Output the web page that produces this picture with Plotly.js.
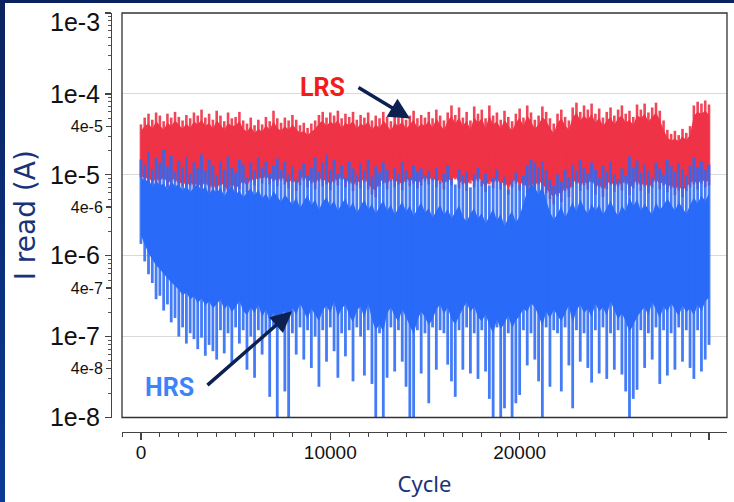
<!DOCTYPE html>
<html>
<head>
<meta charset="utf-8">
<script src="https://cdn.plot.ly/plotly-3.0.1.min.js"></script>
<style>
  html, body { margin:0; padding:0; }
  body { width:734px; height:502px; overflow:hidden; background:linear-gradient(180deg,#0a2260,#0b3a96); position:relative; }
  #chart { position:absolute; left:5px; top:3px; width:729px; height:499px; background:#fff; }
</style>
</head>
<body>
<div id="chart"></div>
<script>
// ---- data: readings per 200-cycle bin, in A ----
const binCycles = [0,200,400,600,800,1000,1200,1400,1600,1800,2000,2200,2400,2600,2800,3000,3200,3400,3600,3800,
4000,4200,4400,4600,4800,5000,5200,5400,5600,5800,6000,6200,6400,6600,6800,7000,7200,7400,7600,7800,
8000,8200,8400,8600,8800,9000,9200,9400,9600,9800,10000,10200,10400,10600,10800,11000,11200,11400,11600,11800,
12000,12200,12400,12600,12800,13000,13200,13400,13600,13800,14000,14200,14400,14600,14800,15000,15200,15400,15600,15800,
16000,16200,16400,16600,16800,17000,17200,17400,17600,17800,18000,18200,18400,18600,18800,19000,19200,19400,19600,19800,
20000,20200,20400,20600,20800,21000,21200,21400,21600,21800,22000,22200,22400,22600,22800,23000,23200,23400,23600,23800,
24000,24200,24400,24600,24800,25000,25200,25400,25600,25800,26000,26200,26400,26600,26800,27000,27200,27400,27600,27800,
28000,28200,28400,28600,28800,29000,29200,29400,29600,29800,30000];

// LRS: extreme spike high / low in each bin
const lrsHigh = [4.2e-5,5.1e-5,5.7e-5,4.8e-5,5.9e-5,5.4e-5,4.6e-5,5.7e-5,5.1e-5,6.0e-5,
5.2e-5,4.7e-5,5.5e-5,5.0e-5,5.9e-5,5.4e-5,6.4e-5,5.1e-5,5.7e-5,4.8e-5,
6.2e-5,5.4e-5,4.6e-5,5.9e-5,5.0e-5,5.2e-5,6.0e-5,4.7e-5,4.3e-5,5.1e-5,
4.1e-5,4.8e-5,4.2e-5,5.2e-5,4.6e-5,6.2e-5,5.0e-5,4.4e-5,5.1e-5,4.7e-5,
5.5e-5,4.8e-5,4.1e-5,4.4e-5,3.8e-5,4.3e-5,4.7e-5,5.5e-5,6.0e-5,5.1e-5,
5.9e-5,5.4e-5,6.2e-5,5.0e-5,5.7e-5,5.2e-5,6.0e-5,4.8e-5,5.5e-5,5.1e-5,
5.9e-5,4.7e-5,5.4e-5,5.0e-5,6.0e-5,5.2e-5,4.6e-5,5.7e-5,5.1e-5,5.9e-5,
4.8e-5,5.4e-5,6.2e-5,5.0e-5,5.5e-5,5.1e-5,6.0e-5,5.0e-5,6.4e-5,5.4e-5,
4.7e-5,5.9e-5,7.2e-5,5.5e-5,6.8e-5,5.1e-5,6.0e-5,4.7e-5,7.0e-5,5.7e-5,
6.4e-5,5.0e-5,7.2e-5,5.4e-5,5.9e-5,4.8e-5,6.2e-5,5.2e-5,4.6e-5,5.7e-5,
6.6e-5,5.1e-5,7.2e-5,5.9e-5,4.8e-5,5.4e-5,7.0e-5,6.0e-5,5.0e-5,4.3e-5,
5.7e-5,6.4e-5,5.2e-5,4.7e-5,6.8e-5,7.8e-5,6.0e-5,7.2e-5,6.4e-5,7.6e-5,
5.7e-5,6.6e-5,5.1e-5,6.0e-5,6.8e-5,5.4e-5,6.4e-5,7.2e-5,5.7e-5,6.2e-5,
5.2e-5,7.4e-5,6.4e-5,7.6e-5,5.9e-5,6.8e-5,7.8e-5,6.2e-5,4.7e-5,3.6e-5,
3.2e-5,3.5e-5,3.1e-5,3.7e-5,3.3e-5,4.0e-5,7.2e-5,8.0e-5,7.6e-5,8.3e-5,
7.4e-5];
const lrsLow = [9.3e-6,7.8e-6,8.5e-6,7.2e-6,8.1e-6,7.4e-6,8.8e-6,7.0e-6,7.6e-6,8.3e-6,
6.6e-6,7.2e-6,6.3e-6,7.4e-6,6.4e-6,7.0e-6,6.1e-6,7.6e-6,5.9e-6,6.8e-6,
5.4e-6,7.4e-6,6.3e-6,5.3e-6,7.0e-6,5.7e-6,6.6e-6,7.8e-6,6.1e-6,8.3e-6,
7.4e-6,8.8e-6,7.8e-6,9.0e-6,7.6e-6,8.3e-6,7.2e-6,8.5e-6,7.6e-6,6.8e-6,
8.1e-6,6.3e-6,7.4e-6,8.5e-6,7.0e-6,7.8e-6,6.6e-6,8.3e-6,7.2e-6,7.6e-6,
6.4e-6,8.1e-6,7.4e-6,8.8e-6,7.0e-6,7.8e-6,6.3e-6,7.4e-6,6.8e-6,8.1e-6,
6.6e-6,5.7e-6,5.3e-6,7.2e-6,7.8e-6,6.6e-6,8.3e-6,7.0e-6,7.6e-6,6.4e-6,
8.1e-6,7.2e-6,7.8e-6,6.8e-6,7.4e-6,8.3e-6,7.6e-6,8.5e-6,7.0e-6,7.8e-6,
6.6e-6,8.1e-6,7.4e-6,8.8e-6,6.8e-6,7.6e-6,6.3e-6,7.8e-6,7.0e-6,8.3e-6,
7.2e-6,6.1e-6,7.6e-6,6.8e-6,8.1e-6,6.6e-6,7.4e-6,5.7e-6,7.0e-6,7.8e-6,
6.4e-6,7.4e-6,5.6e-6,7.0e-6,6.3e-6,7.6e-6,6.6e-6,5.9e-6,5.0e-6,4.3e-6,
5.4e-6,4.6e-6,6.3e-6,5.3e-6,7.0e-6,7.8e-6,6.3e-6,7.4e-6,6.6e-6,8.1e-6,
5.7e-6,7.0e-6,5.3e-6,6.6e-6,7.6e-6,6.1e-6,7.2e-6,6.4e-6,7.8e-6,5.6e-6,
6.8e-6,7.6e-6,6.3e-6,7.2e-6,5.9e-6,7.0e-6,8.1e-6,6.6e-6,7.4e-6,6.1e-6,
6.8e-6,5.6e-6,6.4e-6,5.3e-6,6.3e-6,7.0e-6,7.6e-6,6.6e-6,7.8e-6,7.0e-6,
7.4e-6];
// LRS: edges of the dense band in each bin
const lrsBandHigh = [3.5e-5,4.0e-5,4.3e-5,3.7e-5,4.6e-5,4.1e-5,3.6e-5,4.4e-5,4.0e-5,4.7e-5,
4.1e-5,3.7e-5,4.3e-5,3.8e-5,4.6e-5,4.2e-5,4.8e-5,4.0e-5,4.4e-5,3.7e-5,
4.7e-5,4.2e-5,3.6e-5,4.4e-5,4.0e-5,4.1e-5,4.6e-5,3.7e-5,3.4e-5,4.0e-5,
3.3e-5,3.7e-5,3.4e-5,4.1e-5,3.6e-5,4.6e-5,3.8e-5,3.5e-5,4.0e-5,3.6e-5,
4.2e-5,3.7e-5,3.3e-5,3.5e-5,3.1e-5,3.4e-5,3.7e-5,4.3e-5,4.7e-5,4.0e-5,
4.6e-5,4.2e-5,4.8e-5,3.8e-5,4.4e-5,4.1e-5,4.7e-5,3.7e-5,4.3e-5,4.0e-5,
4.6e-5,3.6e-5,4.2e-5,3.8e-5,4.7e-5,4.1e-5,3.5e-5,4.4e-5,4.0e-5,4.6e-5,
3.7e-5,4.2e-5,4.8e-5,3.8e-5,4.3e-5,4.0e-5,4.7e-5,3.8e-5,5.0e-5,4.2e-5,
3.6e-5,4.6e-5,5.4e-5,4.3e-5,5.1e-5,4.0e-5,4.7e-5,3.6e-5,5.2e-5,4.4e-5,
5.0e-5,3.8e-5,5.4e-5,4.2e-5,4.6e-5,3.7e-5,4.8e-5,4.1e-5,3.5e-5,4.4e-5,
5.1e-5,4.0e-5,5.4e-5,4.6e-5,3.7e-5,4.2e-5,5.2e-5,4.7e-5,3.8e-5,3.3e-5,
4.4e-5,5.0e-5,4.1e-5,3.6e-5,5.1e-5,5.9e-5,4.7e-5,5.4e-5,4.8e-5,5.7e-5,
4.4e-5,5.1e-5,4.0e-5,4.7e-5,5.2e-5,4.2e-5,5.0e-5,5.4e-5,4.4e-5,4.8e-5,
4.1e-5,5.5e-5,5.0e-5,5.7e-5,4.6e-5,5.2e-5,5.9e-5,4.8e-5,3.6e-5,2.9e-5,
2.65e-5,2.8e-5,2.6e-5,3.0e-5,2.7e-5,3.1e-5,5.4e-5,6.0e-5,5.7e-5,6.2e-5,
5.5e-5];
const lrsBandLow = [9.8e-6,8.8e-6,9.3e-6,8.1e-6,9.0e-6,8.3e-6,9.5e-6,7.8e-6,8.5e-6,9.0e-6,
7.6e-6,8.3e-6,7.2e-6,8.1e-6,7.4e-6,7.8e-6,7.0e-6,8.3e-6,6.8e-6,7.6e-6,
6.6e-6,8.1e-6,7.2e-6,6.4e-6,7.8e-6,6.8e-6,7.4e-6,8.5e-6,7.2e-6,9.0e-6,
8.3e-6,9.5e-6,8.8e-6,9.8e-6,8.5e-6,9.3e-6,8.1e-6,9.5e-6,8.5e-6,7.8e-6,
9.0e-6,7.6e-6,8.5e-6,9.8e-6,8.1e-6,8.8e-6,7.6e-6,9.3e-6,8.3e-6,8.8e-6,
7.4e-6,9.0e-6,8.3e-6,9.8e-6,7.8e-6,8.8e-6,7.2e-6,8.5e-6,7.8e-6,9.3e-6,
7.6e-6,6.8e-6,6.3e-6,8.1e-6,8.8e-6,7.4e-6,9.3e-6,8.1e-6,8.5e-6,7.4e-6,
9.0e-6,8.3e-6,8.8e-6,7.8e-6,8.5e-6,9.3e-6,8.5e-6,9.5e-6,8.1e-6,8.8e-6,
7.6e-6,9.0e-6,8.3e-6,9.8e-6,7.8e-6,8.5e-6,7.2e-6,8.8e-6,8.1e-6,9.3e-6,
8.3e-6,7.0e-6,8.5e-6,7.8e-6,9.0e-6,7.6e-6,8.3e-6,6.8e-6,8.1e-6,8.8e-6,
7.4e-6,8.3e-6,6.6e-6,7.8e-6,7.2e-6,8.5e-6,7.6e-6,6.8e-6,5.9e-6,5.3e-6,
6.3e-6,5.6e-6,7.2e-6,6.3e-6,7.8e-6,8.8e-6,7.2e-6,8.3e-6,7.6e-6,9.0e-6,
6.8e-6,7.8e-6,6.3e-6,7.6e-6,8.5e-6,7.0e-6,8.1e-6,7.4e-6,8.8e-6,6.6e-6,
7.8e-6,8.5e-6,7.2e-6,8.1e-6,6.8e-6,7.8e-6,9.0e-6,7.6e-6,8.3e-6,7.0e-6,
7.6e-6,6.6e-6,7.4e-6,6.3e-6,7.2e-6,7.8e-6,8.5e-6,7.6e-6,8.8e-6,8.1e-6,
8.5e-6];

// HRS: extreme spike high / low in each bin
const hrsHigh = [1.55e-5,1.34e-5,1.94e-5,1.16e-5,1.64e-5,1.42e-5,2.05e-5,1.27e-5,1.73e-5,1.10e-5,
1.50e-5,1.23e-5,1.64e-5,1.04e-5,1.42e-5,1.20e-5,1.78e-5,1.13e-5,1.55e-5,1.30e-5,
9.8e-6,1.46e-5,1.16e-5,1.68e-5,1.23e-5,1.07e-5,1.55e-5,1.34e-5,9.3e-6,1.42e-5,
1.13e-5,1.64e-5,1.23e-5,1.46e-5,1.04e-5,1.30e-5,1.59e-5,1.16e-5,1.46e-5,1.01e-5,
1.27e-5,8.8e-6,1.16e-5,1.38e-5,9.8e-6,1.23e-5,1.64e-5,1.10e-5,1.42e-5,1.78e-5,
1.16e-5,1.55e-5,1.04e-5,1.30e-5,9.3e-6,1.46e-5,1.20e-5,1.01e-5,1.38e-5,1.13e-5,
1.55e-5,9.5e-6,1.27e-5,1.07e-5,1.42e-5,1.16e-5,8.8e-6,1.23e-5,1.04e-5,1.46e-5,
1.13e-5,9.3e-6,1.30e-5,1.10e-5,1.20e-5,9.8e-6,1.13e-5,9.3e-6,1.23e-5,8.3e-6,
1.04e-5,1.30e-5,9.0e-6,7.6e-6,1.16e-5,9.8e-6,1.10e-5,7.0e-6,1.01e-5,1.23e-5,
8.5e-6,1.04e-5,7.4e-6,9.3e-6,1.16e-5,8.1e-6,9.5e-6,6.6e-6,8.5e-6,1.07e-5,
7.6e-6,9.8e-6,1.30e-5,1.55e-5,1.42e-5,1.23e-5,1.46e-5,1.13e-5,8.8e-6,7.4e-6,
1.01e-5,8.3e-6,1.16e-5,9.3e-6,1.34e-5,1.13e-5,1.55e-5,1.23e-5,1.04e-5,1.42e-5,
1.16e-5,9.3e-6,1.30e-5,1.10e-5,1.46e-5,1.01e-5,8.8e-6,1.20e-5,9.8e-6,1.68e-5,
1.23e-5,1.50e-5,1.07e-5,1.34e-5,1.13e-5,9.3e-6,1.42e-5,1.20e-5,1.01e-5,1.55e-5,
1.27e-5,1.10e-5,1.38e-5,1.16e-5,9.8e-6,1.30e-5,1.64e-5,1.23e-5,1.46e-5,1.16e-5,
1.34e-5];
const hrsLow = [1.4e-6,8.5e-7,5.9e-7,4.6e-7,2.9e-7,3.2e-7,2.1e-7,2.5e-7,1.5e-7,1.7e-7,
1.0e-7,1.3e-7,8.2e-8,1.1e-7,9.3e-8,7.0e-8,9.7e-8,5.8e-8,7.9e-8,6.6e-8,
5.2e-8,1.2e-7,6.2e-8,1.1e-7,4.5e-8,1.3e-7,8.2e-8,1.2e-7,3.9e-8,1.0e-7,
3.1e-8,1.2e-7,6.0e-8,1.1e-7,1.8e-8,1.3e-7,1.0e-8,1.2e-7,2.1e-8,1.0e-8,
1.1e-7,6.0e-8,1.3e-7,5.2e-8,1.2e-7,4.1e-8,1.0e-7,2.4e-8,1.2e-7,4.9e-8,
1.3e-7,6.6e-8,3.1e-8,1.1e-7,5.7e-8,1.2e-7,2.8e-8,1.3e-7,1.0e-7,3.3e-8,
1.2e-7,2.6e-8,1.0e-8,1.1e-7,1.0e-8,3.1e-8,1.3e-7,3.7e-8,1.2e-7,4.9e-8,
2.4e-8,1.0e-8,1.0e-8,1.2e-7,3.5e-8,1.1e-7,1.5e-8,1.3e-7,3.9e-8,1.2e-7,
1.1e-7,4.5e-8,2.8e-8,1.8e-8,1.2e-7,3.9e-8,1.3e-7,3.5e-8,1.1e-7,3.0e-8,
1.2e-7,3.7e-8,1.7e-8,1.0e-8,1.3e-7,1.0e-8,1.3e-8,1.1e-7,1.0e-8,1.5e-8,
1.9e-8,1.2e-7,4.4e-8,1.1e-7,5.2e-8,2.8e-8,1.0e-8,1.3e-7,2.4e-8,1.2e-7,
1.1e-7,2.1e-8,1.3e-7,4.4e-8,1.3e-8,1.2e-7,4.9e-8,1.1e-7,4.1e-8,2.7e-8,
1.2e-7,3.5e-8,1.3e-7,3.0e-8,1.1e-7,3.9e-8,1.2e-7,3.4e-8,2.1e-8,1.0e-8,
1.7e-8,2.2e-8,1.2e-7,4.1e-8,1.1e-7,5.2e-8,1.3e-7,2.6e-8,1.2e-7,3.3e-8,
1.1e-7,3.9e-8,1.3e-7,4.9e-8,1.2e-7,4.1e-8,3.0e-8,1.2e-7,3.7e-8,5.2e-8,
7.9e-8];
// HRS: edges of the dense band in each bin
const hrsBandHigh = [9.8e-6,8.1e-6,9.0e-6,7.0e-6,8.5e-6,7.4e-6,7.8e-6,6.6e-6,8.3e-6,7.2e-6,
7.6e-6,6.4e-6,7.4e-6,6.1e-6,7.0e-6,7.8e-6,6.3e-6,7.2e-6,5.7e-6,6.8e-6,
5.9e-6,7.0e-6,5.4e-6,6.6e-6,7.4e-6,5.7e-6,6.4e-6,5.3e-6,6.1e-6,6.8e-6,
5.6e-6,6.6e-6,5.1e-6,5.9e-6,4.8e-6,6.3e-6,5.4e-6,4.6e-6,5.7e-6,5.0e-6,
4.3e-6,5.3e-6,3.9e-6,4.7e-6,5.6e-6,4.2e-6,5.0e-6,3.7e-6,4.6e-6,5.3e-6,
4.1e-6,4.8e-6,3.6e-6,4.4e-6,5.1e-6,3.8e-6,4.6e-6,3.4e-6,4.2e-6,5.0e-6,
3.7e-6,4.4e-6,3.3e-6,4.1e-6,4.8e-6,3.6e-6,4.3e-6,3.2e-6,3.9e-6,4.7e-6,
3.5e-6,4.2e-6,3.1e-6,3.8e-6,4.6e-6,3.4e-6,3.9e-6,2.96e-6,3.6e-6,4.3e-6,
3.2e-6,3.8e-6,2.88e-6,3.5e-6,4.2e-6,3.05e-6,2.64e-6,3.3e-6,3.9e-6,2.88e-6,
3.4e-6,2.5e-6,3.1e-6,3.8e-6,2.72e-6,3.3e-6,2.29e-6,2.96e-6,3.6e-6,2.57e-6,
3.1e-6,4.3e-6,6.3e-6,7.8e-6,7.0e-6,5.7e-6,7.4e-6,4.8e-6,3.5e-6,2.8e-6,
3.3e-6,4.1e-6,2.96e-6,3.7e-6,4.6e-6,3.5e-6,5.1e-6,3.9e-6,3.3e-6,4.4e-6,
3.6e-6,4.3e-6,3.2e-6,3.9e-6,4.8e-6,3.7e-6,3.1e-6,4.2e-6,3.5e-6,5.3e-6,
4.1e-6,5.0e-6,3.6e-6,4.4e-6,3.8e-6,3.2e-6,4.6e-6,3.7e-6,4.2e-6,5.1e-6,
4.3e-6,3.6e-6,4.6e-6,3.9e-6,3.3e-6,4.2e-6,5.3e-6,4.4e-6,5.6e-6,4.7e-6,
5.9e-6];
const hrsBandLow = [1.78e-6,1.34e-6,1.07e-6,9.0e-7,7.6e-7,6.8e-7,5.9e-7,5.25e-7,4.7e-7,4.2e-7,
3.8e-7,3.24e-7,3.5e-7,2.88e-7,3.15e-7,2.58e-7,2.97e-7,2.43e-7,2.73e-7,2.23e-7,
2.58e-7,2.88e-7,2.17e-7,2.5e-7,2.0e-7,2.37e-7,2.73e-7,2.11e-7,1.83e-7,2.3e-7,
1.94e-7,2.5e-7,1.73e-7,2.17e-7,1.55e-7,2.0e-7,1.34e-7,1.78e-7,2.11e-7,1.46e-7,
2.3e-7,1.83e-7,2.58e-7,2.05e-7,1.64e-7,2.23e-7,1.89e-7,1.55e-7,2.11e-7,2.43e-7,
1.94e-7,2.73e-7,1.73e-7,2.23e-7,2.5e-7,1.83e-7,1.5e-7,2.11e-7,2.37e-7,1.68e-7,
2.58e-7,1.64e-7,1.2e-7,1.42e-7,1.13e-7,1.94e-7,2.3e-7,1.78e-7,1.55e-7,2.17e-7,
1.73e-7,1.34e-7,1.07e-7,1.59e-7,2.05e-7,1.73e-7,1.38e-7,1.64e-7,2.17e-7,2.5e-7,
1.89e-7,2.3e-7,1.64e-7,1.42e-7,1.78e-7,2.23e-7,2.65e-7,2.0e-7,2.37e-7,1.73e-7,
1.55e-7,1.89e-7,1.38e-7,1.1e-7,1.64e-7,1.23e-7,1.46e-7,1.83e-7,1.27e-7,1.59e-7,
1.78e-7,2.23e-7,2.0e-7,2.58e-7,2.3e-7,1.83e-7,1.34e-7,2.05e-7,1.68e-7,2.17e-7,
1.83e-7,1.55e-7,1.94e-7,2.43e-7,1.46e-7,2.11e-7,2.5e-7,1.94e-7,2.23e-7,1.73e-7,
2.58e-7,2.05e-7,2.3e-7,1.78e-7,2.73e-7,2.11e-7,1.64e-7,1.94e-7,1.55e-7,1.13e-7,
1.42e-7,1.73e-7,2.05e-7,2.3e-7,1.83e-7,2.65e-7,2.17e-7,1.68e-7,2.37e-7,2.0e-7,
2.58e-7,2.17e-7,1.78e-7,2.43e-7,2.0e-7,2.23e-7,1.83e-7,2.5e-7,2.05e-7,2.73e-7,
3.05e-7];

// axis ticks (the top decade label sits just below its tick, as in the original)
const xTickVals = [0, 10000, 20000, 30000];
const xTickText = ['0', '10000', '20000', '30000'];
const yDecadeVals = [1e-3, 1e-4, 1e-5, 1e-6, 1e-7, 1e-8];
const yDecadeText = ['', '1e-4', '1e-5', '1e-6', '1e-7', '1e-8'];
const yTopLabel = '1e-3';
const yFourVals = [4e-5, 4e-6, 4e-7, 4e-8];
const yFourText = ['4e-5', '4e-6', '4e-7', '4e-8'];
const yMinorVals = [2e-8,3e-8,5e-8,6e-8,7e-8,8e-8,9e-8, 2e-7,3e-7,5e-7,6e-7,7e-7,8e-7,9e-7,
  2e-6,3e-6,5e-6,6e-6,7e-6,8e-6,9e-6, 2e-5,3e-5,5e-5,6e-5,7e-5,8e-5,9e-5,
  2e-4,3e-4,4e-4,5e-4,6e-4,7e-4,8e-4,9e-4];

// ---- traces ----
const RED = '#ef3347';
const BLUE = '#2b6af8';

function spikes(xs, lo, hi) {
  const X = [], Y = [];
  for (let i = 0; i < xs.length; i++) {
    X.push(xs[i], xs[i], null);
    Y.push(lo[i], hi[i], null);
  }
  return { X, Y };
}
const rs = spikes(binCycles, lrsLow, lrsHigh);
const bs = spikes(binCycles, hrsLow, hrsHigh);

const traces = [
  { x: binCycles, y: lrsBandLow, mode: 'lines', line: { width: 0, color: RED }, hoverinfo: 'skip' },
  { x: binCycles, y: lrsBandHigh, mode: 'lines', line: { width: 0, color: RED }, fill: 'tonexty', fillcolor: RED, hoverinfo: 'skip' },
  { x: rs.X, y: rs.Y, mode: 'lines', line: { width: 2.6, color: RED }, opacity: 0.9, connectgaps: false, hoverinfo: 'skip' },
  { x: binCycles, y: hrsBandLow, mode: 'lines', line: { width: 0, color: BLUE }, hoverinfo: 'skip' },
  { x: binCycles, y: hrsBandHigh, mode: 'lines', line: { width: 0, color: BLUE }, fill: 'tonexty', fillcolor: BLUE, hoverinfo: 'skip' },
  { x: bs.X, y: bs.Y, mode: 'lines', line: { width: 2.8, color: BLUE }, opacity: 0.88, connectgaps: false, hoverinfo: 'skip' },
  { x: [xTickVals[0]], y: [yFourVals[0]], yaxis: 'y2', mode: 'markers', marker: { opacity: 0 }, hoverinfo: 'skip' }
];

const tickFont = { family: 'Liberation Sans, Arial, sans-serif', color: '#111' };
const NAVY = '#1a3378';

const layout = {
  width: 729, height: 499,
  margin: { l: 106, r: 7, t: 10, b: 70 },
  paper_bgcolor: '#ffffff', plot_bgcolor: 'rgba(0,0,0,0)',
  showlegend: false, hovermode: false,
  xaxis: {
    domain: [0.01786, 1], anchor: 'free', position: 0,
    range: [-1000, 30950], tickmode: 'array', tickvals: xTickVals, ticktext: xTickText,
    ticks: 'outside', ticklen: 7, tickwidth: 1.2, tickcolor: '#444', ticklabelstandoff: -4,
    showline: true, linecolor: '#444', linewidth: 1.2, showgrid: false, zeroline: false,
    tickfont: Object.assign({ size: 19 }, tickFont),
    minor: { tick0: 0, dtick: 1000, ticks: 'outside', ticklen: 4, tickcolor: '#444', tickwidth: 1, showgrid: false },
    title: { text: 'Cycle', font: { family: 'Noto Sans, sans-serif', size: 22, color: NAVY }, standoff: 14 },
    automargin: false
  },
  yaxis: {
    domain: [0.0346, 1], anchor: 'free', position: 0,
    type: 'log', range: [-8, -2.9995], tickmode: 'array', tickvals: yDecadeVals, ticktext: yDecadeText,
    ticks: 'outside', ticklen: 6, tickwidth: 1.2, tickcolor: '#444',
    showline: true, linecolor: '#444', linewidth: 1.2,
    showgrid: true, gridcolor: '#d9d9d9', gridwidth: 1, zeroline: false,
    tickfont: Object.assign({ size: 25 }, tickFont),
    minor: { tickmode: 'array', tickvals: yMinorVals, ticks: 'outside', ticklen: 3, tickcolor: '#555', tickwidth: 1, showgrid: false },
    title: { text: 'I read (A)', font: { family: 'DejaVu Sans, sans-serif', size: 28, color: NAVY }, standoff: 5 },
    automargin: false
  },
  yaxis2: {
    overlaying: 'y', anchor: 'free', position: 0, side: 'left',
    type: 'log', range: [-8, -2.9995], tickmode: 'array', tickvals: yFourVals, ticktext: yFourText,
    ticks: 'outside', ticklen: 5, tickwidth: 1.2, tickcolor: '#444',
    showline: false, showgrid: false, zeroline: false,
    tickfont: Object.assign({ size: 16 }, tickFont),
    automargin: false
  },
  shapes: [
    { type: 'rect', xref: 'paper', yref: 'paper', x0: 0.01786, x1: 1, y0: 0.0346, y1: 1,
      line: { color: '#333', width: 1.3 }, layer: 'above' }
  ],
  annotations: [
    { x: -0.0146, xref: 'paper', xanchor: 'right', y: -3.108, yref: 'y', yanchor: 'middle',
      text: yTopLabel, showarrow: false, font: Object.assign({ size: 25 }, tickFont) },
    { x: 9613, y: -3.922, xref: 'x', yref: 'y', text: '<b>LRS</b>', showarrow: false,
      font: { family: 'Roboto, sans-serif', size: 25, color: '#f21c1c' } },
    { x: 1532, y: -7.626, xref: 'x', yref: 'y', text: '<b>HRS</b>', showarrow: false,
      font: { family: 'Roboto, sans-serif', size: 25, color: '#3d84f7' } },
    { x: 14208, y: -4.305, xref: 'x', yref: 'y', ax: -53, ay: -32, text: '', showarrow: true,
      arrowhead: 2, arrowsize: 1.2, arrowwidth: 3.5, arrowcolor: '#0c2151', standoff: 0 },
    { x: 7975, y: -6.688, xref: 'x', yref: 'y', ax: -86, ay: 75, text: '', showarrow: true,
      arrowhead: 2, arrowsize: 1.2, arrowwidth: 3.5, arrowcolor: '#0c2151', standoff: 0 }
  ]
};

Plotly.newPlot('chart', traces, layout, { displayModeBar: false, staticPlot: true });
</script>
</body>
</html>
